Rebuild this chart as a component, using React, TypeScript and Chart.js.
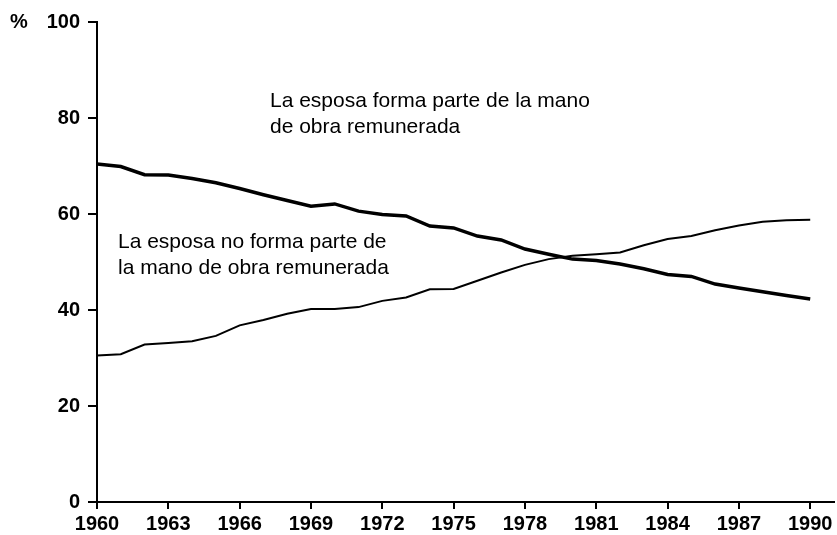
import React, { useEffect, useRef } from "react";
import { Chart, registerables } from "chart.js";

Chart.register(...registerables);

const years = [
  1960, 1961, 1962, 1963, 1964, 1965, 1966, 1967, 1968, 1969,
  1970, 1971, 1972, 1973, 1974, 1975, 1976, 1977, 1978, 1979,
  1980, 1981, 1982, 1983, 1984, 1985, 1986, 1987, 1988, 1989, 1990,
];

// La esposa no forma parte de la mano de obra remunerada (thick line)
const notInLabor = [
  70.4, 69.9, 68.2, 68.1, 67.4, 66.5, 65.3, 64.0, 62.8, 61.6,
  62.1, 60.6, 59.9, 59.6, 57.5, 57.1, 55.4, 54.6, 52.7, 51.6,
  50.6, 50.3, 49.6, 48.6, 47.4, 47.0, 45.4, 44.6, 43.8, 43.0, 42.3,
];

// La esposa forma parte de la mano de obra remunerada (thin line)
const inLabor = [
  30.5, 30.8, 32.8, 33.1, 33.5, 34.6, 36.8, 37.9, 39.2, 40.2,
  40.2, 40.6, 41.9, 42.6, 44.3, 44.4, 46.1, 47.8, 49.4, 50.6,
  51.3, 51.6, 52.0, 53.5, 54.8, 55.4, 56.6, 57.6, 58.4, 58.7, 58.8,
];

const xTickValues = [1960, 1963, 1966, 1969, 1972, 1975, 1978, 1981, 1984, 1987, 1990];
const yTickValues = [0, 20, 40, 60, 80, 100];

const unitLabel = "%";
const labelInLabor = ["La esposa forma parte de la mano", "de obra remunerada"];
const labelNotInLabor = ["La esposa no forma parte de", "la mano de obra remunerada"];

const FONT = "'Liberation Sans', Arial, Helvetica, sans-serif";

export default function App() {
  const ref = useRef<HTMLCanvasElement | null>(null);

  useEffect(() => {
    document.body.style.margin = "0";
    const canvas = ref.current;
    if (!canvas) return;

    const textPlugin = {
      id: "textPlugin",
      afterDraw(chart: any) {
        const ctx = chart.ctx as CanvasRenderingContext2D;
        ctx.save();
        ctx.fillStyle = "#000";
        ctx.textBaseline = "middle";
        ctx.textAlign = "left";
        ctx.font = `bold 20px ${FONT}`;
        const yTop = chart.scales.y.getPixelForValue(100);
        ctx.fillText(unitLabel, 10, yTop);
        ctx.font = `21px ${FONT}`;
        labelInLabor.forEach((t, i) => ctx.fillText(t, 270, 101 + i * 26));
        labelNotInLabor.forEach((t, i) => ctx.fillText(t, 118, 242 + i * 26));
        ctx.restore();
      },
    };

    const chart = new Chart(canvas, {
      type: "line",
      data: {
        datasets: [
          {
            label: "no forma parte",
            data: years.map((yr, i) => ({ x: yr, y: notInLabor[i] })),
            borderColor: "#000",
            borderWidth: 3.5,
            pointRadius: 0,
            tension: 0,
            fill: false,
          },
          {
            label: "forma parte",
            data: years.map((yr, i) => ({ x: yr, y: inLabor[i] })),
            borderColor: "#000",
            borderWidth: 2,
            pointRadius: 0,
            tension: 0,
            fill: false,
          },
        ],
      },
      options: {
        responsive: false,
        animation: false,
        events: [],
        layout: { padding: { top: 22, right: 3, left: 0, bottom: 0 } },
        plugins: {
          legend: { display: false },
          tooltip: { enabled: false },
        },
        scales: {
          x: {
            type: "linear",
            min: 1960,
            max: 1991,
            afterBuildTicks: (axis: any) => {
              axis.ticks = xTickValues.map((v) => ({ value: v }));
            },
            afterFit: (axis: any) => {
              axis.height = 33;
            },
            grid: {
              display: true,
              drawOnChartArea: false,
              drawTicks: true,
              tickLength: 7,
              color: "#000",
              lineWidth: 2,
            },
            border: { display: true, color: "#000", width: 2 },
            ticks: {
              color: "#000",
              padding: 3,
              maxRotation: 0,
              autoSkip: false,
              font: { family: FONT, size: 20, weight: "bold" },
              callback: (v: any) => String(v),
            },
          },
          y: {
            type: "linear",
            min: 0,
            max: 100,
            afterBuildTicks: (axis: any) => {
              axis.ticks = yTickValues.map((v) => ({ value: v }));
            },
            afterFit: (axis: any) => {
              axis.width = 97;
            },
            grid: {
              display: true,
              drawOnChartArea: false,
              drawTicks: true,
              tickLength: 9,
              color: "#000",
              lineWidth: 2,
            },
            border: { display: true, color: "#000", width: 2 },
            ticks: {
              color: "#000",
              padding: 8,
              font: { family: FONT, size: 20, weight: "bold" },
              callback: (v: any) => String(v),
            },
          },
        },
      },
      plugins: [textPlugin],
    });

    return () => chart.destroy();
  }, []);

  return (
    <div style={{ width: 837, height: 535, background: "#fff" }}>
      <canvas ref={ref} width={837} height={535} style={{ display: "block" }} />
    </div>
  );
}
